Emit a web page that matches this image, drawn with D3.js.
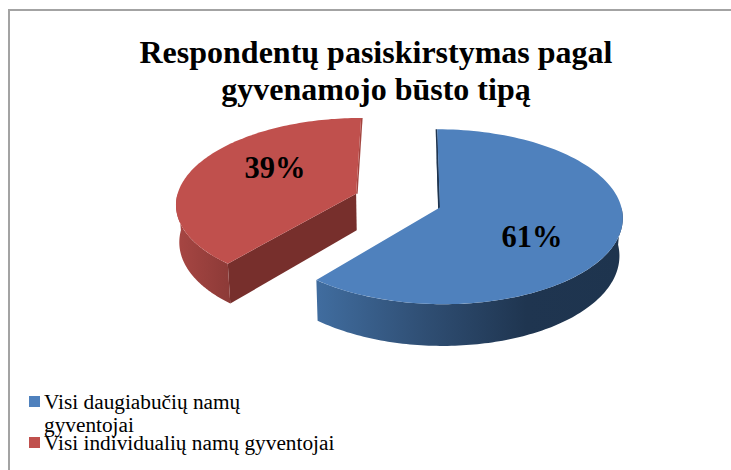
<!DOCTYPE html>
<html><head><meta charset="utf-8">
<script src="https://cdn.jsdelivr.net/npm/d3@7"></script>
<style>html,body{margin:0;padding:0;background:#fff}svg{display:block}text{font-family:"Liberation Serif",serif;fill:#000}</style>
</head><body><svg id="c" width="731" height="470"></svg>
<script>
const categories = ["Visi daugiabučių namų gyventojai", "Visi individualių namų gyventojai"];
const values = [61, 39];
const labels = ["61%", "39%"];
const titleLines = ["Respondentų pasiskirstymas pagal", "gyvenamojo būsto tipą"];
const legendLines = [["Visi daugiabučių namų", "gyventojai"], ["Visi individualių namų gyventojai"]];
const topColors = ["#4F81BD", "#C0504D"];

const svg = d3.select("#c"), W = 731, H = 470;
svg.append("rect").attr("width", W).attr("height", H).attr("fill", "#fff");
svg.append("path").attr("d", "M9,470V10H731").attr("fill", "none").attr("stroke", "#a3a3a3").attr("stroke-width", 2);

// 3-D projection of the pie disc
const cx = 397.5, vx = 420, cy = 200.5, rx = 180, ry = 85, depth = 37, k = 0.105, shear = 1, explode = 0.24;
const sliceNudge = [1.5, -1.2];
function P(u, v, z) {
  const f = 1 / (1 - k * v);
  const sx = vx + f * (cx - vx + rx * u + shear * v);
  return [cx + (sx - cx) * (1 - 0.015 * z), cy + f * ry * v + z * depth * f];
}
const line = d3.line();
const pie = d3.pie().sort(null).value(d => d)(values);
const defs = svg.append("defs");
function grad(id, x1, x2, stops) {
  const g = defs.append("linearGradient").attr("id", id).attr("gradientUnits", "userSpaceOnUse")
    .attr("x1", x1).attr("x2", x2).attr("y1", 0).attr("y2", 0);
  stops.forEach(s => g.append("stop").attr("offset", s[0]).attr("stop-color", s[1]));
}
grad("wall0", 318, 622, [[0, "#406C9E"], [0.35, "#2F4E73"], [0.68, "#1F3550"], [1, "#1E344E"]]);
grad("wall1", 178, 232, [[0, "#A74643"], [1, "#8C3A37"]]);
const wallFill = ["url(#wall0)", "url(#wall1)"];
const cutFill = ["#1F3550", "#772F2C"];
const sliverFill = ["#1F3550", "#A3443F"];
const sliverDx = [-1.6, 1.5];

pie.forEach((s, i) => {
  const bis = (s.startAngle + s.endAngle) / 2;
  const eu = Math.sin(bis) * explode, ev = -Math.cos(bis) * explode;
  const pt = (a, r, z) => P(eu + r * Math.sin(a), ev - r * Math.cos(a), z);
  const angles = (a0, a1) => d3.range(0, 121).map(t => a0 + (a1 - a0) * t / 120);
  const g = svg.append("g").attr("transform", `translate(${sliceNudge[i]},0)`);

  // radial cut wall on the near side
  const nearA = s.startAngle;
  g.append("path").attr("fill", cutFill[i]).attr("d", line([pt(nearA, 0, 0), pt(nearA, 1, 0), pt(nearA, 1, 1), pt(nearA, 0, 1)]) + "Z");

  // thin sliver of the far cut wall
  const farA = i === 0 ? s.startAngle : s.endAngle;
  const c0 = pt(farA, 1, 0), c1 = pt(farA, 0, 0);
  g.append("path").attr("fill", sliverFill[i])
    .attr("d", line([c0, c1, [c1[0] + sliverDx[i], c1[1]], [c0[0] + sliverDx[i], c0[1]]]) + "Z");

  // outer wall (front half only)
  const a0 = Math.max(s.startAngle, Math.PI / 2), a1 = Math.min(s.endAngle, 3 * Math.PI / 2);
  const aa = angles(a0, a1);
  g.append("path").attr("fill", wallFill[i])
    .attr("d", line(aa.map(a => pt(a, 1, 0)).concat(aa.slice().reverse().map(a => pt(a, 1, 1)))) + "Z");

  // top face
  g.append("path").attr("fill", topColors[i])
    .attr("d", line([pt(0, 0, 0)].concat(angles(s.startAngle, s.endAngle).map(a => pt(a, 1, 0)))) + "Z");

  // value label
  const lp = pt(bis + 14 * Math.PI / 180, 0.58, 0);
  g.append("text").attr("x", lp[0] + 0.5).attr("y", lp[1] + 10.5).attr("text-anchor", "middle")
    .attr("font-size", 30.5).attr("font-weight", "bold").text(labels[i]);
});

// title
svg.selectAll(".t").data(titleLines).join("text").attr("class", "t")
  .attr("x", 376).attr("y", (d, i) => 63 + i * 37).attr("text-anchor", "middle")
  .attr("font-size", 32).attr("font-weight", "bold").text(d => d);

// legend
const legY = [396, 437];
categories.forEach((c, i) => {
  svg.append("rect").attr("x", 29).attr("y", legY[i]).attr("width", 11).attr("height", 11).attr("fill", topColors[i]);
  legendLines[i].forEach((t, j) => {
    svg.append("text").attr("x", 44).attr("y", legY[i] + 13 + j * 22.5).attr("font-size", 21.3).attr("fill", "#111").text(t);
  });
});
</script></body></html>
